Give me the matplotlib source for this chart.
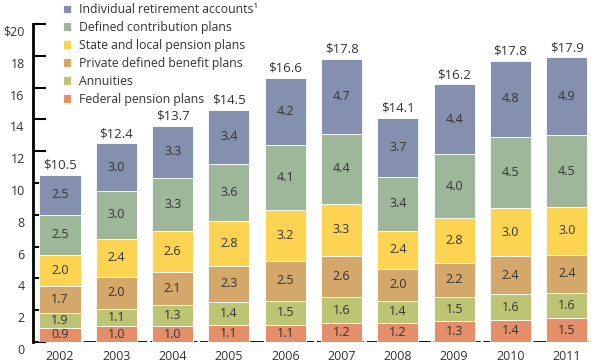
import numpy as np
import matplotlib
matplotlib.use("Agg")
import matplotlib.pyplot as plt
from matplotlib.transforms import ScaledTranslation

plt.rcParams['font.family'] = ['Open Sans', 'DejaVu Sans']

years = ['2002', '2003', '2004', '2005', '2006', '2007', '2008', '2009', '2010', '2011']
federal = [0.9, 1.0, 1.0, 1.1, 1.1, 1.2, 1.2, 1.3, 1.4, 1.5]
annuities = [0.9, 1.1, 1.3, 1.4, 1.5, 1.6, 1.4, 1.5, 1.6, 1.6]
private_db = [1.7, 2.0, 2.1, 2.3, 2.5, 2.6, 2.0, 2.2, 2.4, 2.4]
state_local = [2.0, 2.4, 2.6, 2.8, 3.2, 3.3, 2.4, 2.8, 3.0, 3.0]
defined_contrib = [2.5, 3.0, 3.3, 3.6, 4.1, 4.4, 3.4, 4.0, 4.5, 4.5]
ira = [2.5, 3.0, 3.3, 3.4, 4.2, 4.7, 3.7, 4.4, 4.8, 4.9]
totals = [10.5, 12.4, 13.7, 14.5, 16.6, 17.8, 14.1, 16.2, 17.8, 17.9]
# the source prints 1.9 on the 2002 annuities segment
label_fix = {(1, 0): '1.9'}

series = [federal, annuities, private_db, state_local, defined_contrib, ira]
names = ['Federal pension plans', 'Annuities', 'Private defined benefit plans',
         'State and local pension plans', 'Defined contribution plans',
         'Individual retirement accounts\u00b9']
colors = ['#E48F69', '#BDC574', '#D4A76A', '#FDD352', '#9EB79B', '#8590AF']
txt = '#333333'

fig = plt.figure(figsize=(6, 3.64), dpi=100)
ax = fig.add_axes([33/600, 22/364, 567/600, 318/364])

x = np.arange(len(years))
bottom = np.zeros(len(years))
handles = []
for i, (vals, c) in enumerate(zip(series, colors)):
    vals = np.array(vals)
    b = ax.bar(x, vals, 0.73, bottom=bottom, color=c, edgecolor='white', linewidth=0.6, zorder=3)
    handles.append(b)
    for j, v in enumerate(vals):
        s = label_fix.get((i, j), f'{v:.1f}')
        ax.text(x[j], bottom[j] + v / 2, s, ha='center', va='center', fontsize=9, color=txt, zorder=4)
    bottom += vals

for j, t in enumerate(totals):
    ax.text(x[j], bottom[j] + 0.2, f'${t:.1f}', ha='center', va='bottom', fontsize=9.5, color=txt)

ax.set_xlim(-0.48, 9.59)
ax.set_ylim(0, 20)
ax.hlines(0, -0.48, 9.37, colors='black', linewidth=2, linestyles=(0, (5, 1)), zorder=2)

ax.set_yticks(range(0, 21, 2))
ax.set_yticklabels(['0', '2', '4', '6', '8', '10', '12', '14', '16', '18', '$20'])
ax.tick_params(axis='y', direction='in', length=9, width=1.5, pad=6, labelsize=9, labelcolor=txt)
off = ScaledTranslation(0, -7/100, fig.dpi_scale_trans)
for lab in ax.get_yticklabels():
    lab.set_transform(lab.get_transform() + off)

ax.set_xticks(x)
ax.set_xticklabels(years)
ax.tick_params(axis='x', length=0, pad=6, labelsize=9, labelcolor=txt)

for s in ['top', 'right', 'bottom']:
    ax.spines[s].set_visible(False)
ax.spines['left'].set_linewidth(2)
ax.spines['left'].set_bounds(0, 20)

leg = ax.legend(handles[::-1], names[::-1], loc='upper left', bbox_to_anchor=(0.044, 1.081),
                frameon=False, fontsize=8.8, handlelength=0.7, handleheight=0.7,
                handletextpad=0.6, labelspacing=0.4, borderaxespad=0)
for t in leg.get_texts():
    t.set_color(txt)

fig.savefig('out.png', dpi=100)
